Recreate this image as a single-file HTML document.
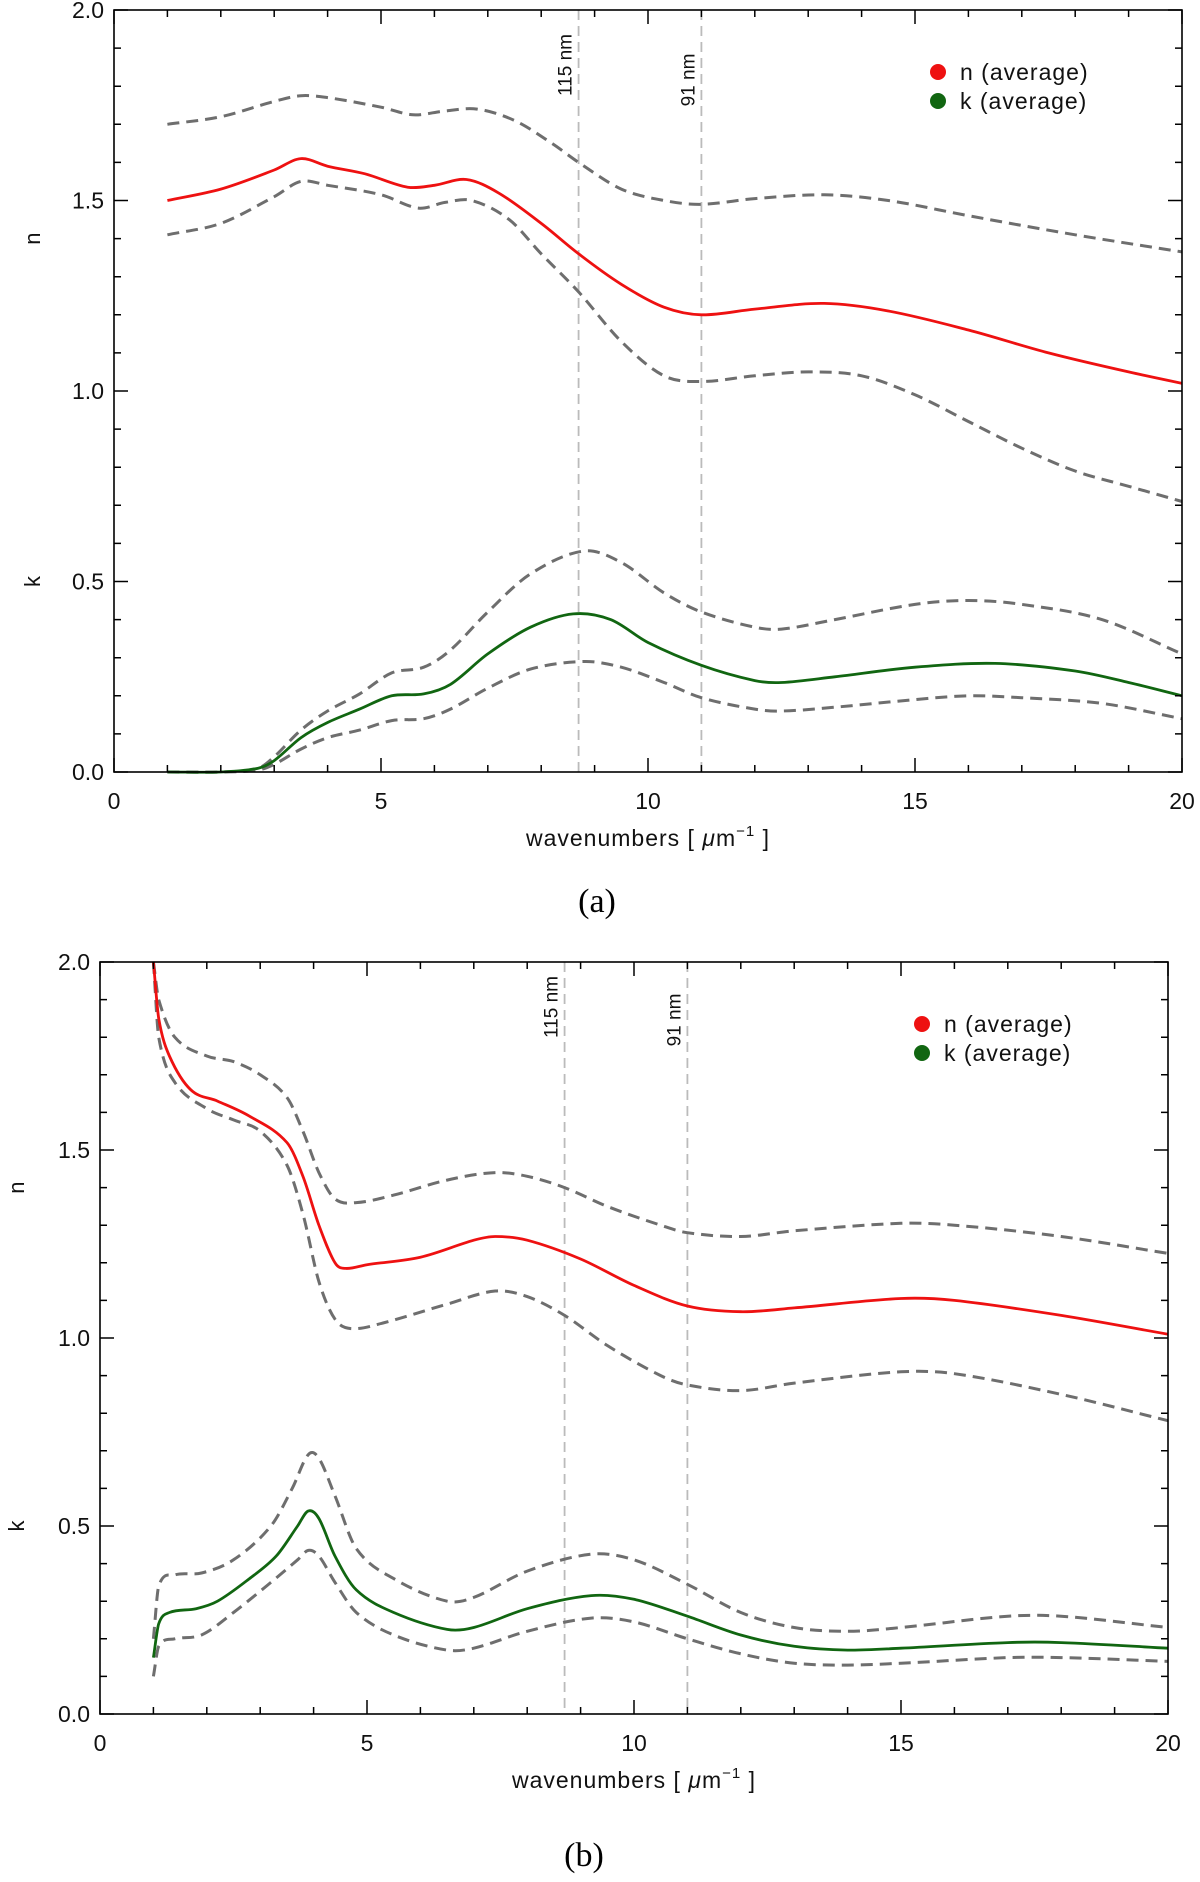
<!DOCTYPE html>
<html><head><meta charset="utf-8"><style>
html,body{margin:0;padding:0;background:#fff;}
svg{display:block;font-family:"Liberation Sans","DejaVu Sans",sans-serif;}
</style></head><body>
<svg id="fig" width="1200" height="1882" viewBox="0 0 1200 1882"></svg>
<script>
// ---------- data ----------
const xTicks = [0,5,10,15,20];
const yTicks = [0.0,0.5,1.0,1.5,2.0];
const vLines = [8.7, 11.0];
const vLabels = ["115 nm","91 nm"];
// panel (a)
const aNavgX=[1,2,3,3.5,4,4.7,5.5,6,6.6,7.2,8,8.7,9.5,10.3,11,12,13.3,14.5,16,17.5,19,20];
const aNavgY=[1.5,1.53,1.58,1.61,1.59,1.57,1.535,1.54,1.555,1.52,1.44,1.36,1.28,1.22,1.2,1.215,1.23,1.21,1.16,1.1,1.05,1.02];
const aNupX=[1,2,3,3.5,4,5,5.6,6.2,6.8,7.5,8.2,8.7,9.5,10.3,11,12,13.3,14.5,16,18,20];
const aNupY=[1.70,1.72,1.76,1.775,1.77,1.745,1.725,1.735,1.74,1.71,1.65,1.6,1.53,1.5,1.49,1.505,1.515,1.5,1.46,1.41,1.365];
const aNloX=[1,2,3,3.5,4,5,5.7,6.2,6.7,7.4,8,8.7,9.5,10.3,11,12,13,14,15,16,17,18,19,20];
const aNloY=[1.41,1.44,1.51,1.55,1.54,1.515,1.48,1.495,1.5,1.45,1.36,1.26,1.13,1.04,1.025,1.04,1.05,1.04,0.99,0.92,0.85,0.79,0.75,0.71];
const aKavgX=[1,2,2.7,3,3.5,4,4.6,5.2,5.8,6.3,7,7.8,8.6,9.3,10,11,12,12.5,13.5,15,16.5,18,19,20];
const aKavgY=[0,0,0.01,0.03,0.09,0.13,0.165,0.2,0.205,0.23,0.31,0.38,0.415,0.4,0.34,0.28,0.24,0.235,0.25,0.275,0.285,0.265,0.235,0.2];
const aKupX=[1,2,2.7,3,3.5,4,4.6,5.2,5.8,6.3,7,7.8,8.8,9.5,10.3,11,12,12.5,13.5,15,16,17,18.5,20];
const aKupY=[0,0,0.01,0.04,0.11,0.16,0.205,0.26,0.275,0.32,0.42,0.52,0.58,0.55,0.47,0.42,0.38,0.375,0.4,0.44,0.45,0.44,0.4,0.31];
const aKloX=[1,2,2.7,3,3.5,4,4.6,5.2,5.8,6.3,7,7.8,8.8,9.5,10.3,11,12,12.5,13.5,15,16,17,18.5,20];
const aKloY=[0,0,0.005,0.02,0.06,0.09,0.11,0.135,0.14,0.165,0.22,0.27,0.29,0.275,0.235,0.195,0.165,0.16,0.17,0.19,0.2,0.195,0.18,0.14];
// panel (b)
const bNavgX=[1,1.1,1.3,1.7,2.2,2.8,3.5,3.8,4.1,4.4,4.6,5,6,7,7.4,8,9,10,11,12,13,15,16,18,20];
const bNavgY=[2.0,1.85,1.75,1.66,1.63,1.59,1.52,1.43,1.3,1.2,1.185,1.195,1.215,1.26,1.27,1.26,1.21,1.14,1.085,1.07,1.08,1.105,1.1,1.06,1.01];
const bNupX=[1,1.1,1.4,2,2.5,3,3.5,3.8,4.1,4.4,4.8,5.5,6.5,7.4,8,8.7,9.5,10.5,11,12,13,15,16,18,20];
const bNupY=[2.0,1.9,1.8,1.75,1.735,1.7,1.64,1.55,1.44,1.37,1.36,1.38,1.42,1.44,1.43,1.4,1.35,1.3,1.28,1.27,1.285,1.305,1.3,1.27,1.225];
const bNloX=[1,1.1,1.4,2,2.5,3,3.5,3.8,4.1,4.4,4.7,5.3,6.5,7.4,8,8.7,9.5,10.5,11,12,13,15,16,18,20];
const bNloY=[2.0,1.8,1.68,1.61,1.58,1.55,1.46,1.33,1.15,1.05,1.025,1.04,1.09,1.125,1.11,1.06,0.98,0.9,0.875,0.86,0.88,0.91,0.905,0.85,0.78];
const bKavgX=[1,1.1,1.3,1.8,2.2,2.8,3.3,3.7,3.9,4.1,4.4,4.8,5.5,6.5,7,8,9.2,10,11,12,13,14,15,17,18,20];
const bKavgY=[0.15,0.24,0.27,0.28,0.3,0.36,0.42,0.5,0.54,0.52,0.42,0.33,0.27,0.225,0.23,0.28,0.315,0.305,0.26,0.21,0.18,0.17,0.175,0.19,0.19,0.175];
const bKupX=[1,1.1,1.4,1.9,2.5,3.2,3.6,3.9,4.1,4.4,4.8,5.5,6.5,7,8,9.2,10,11,12,13,14,15,17,18,20];
const bKupY=[0.2,0.34,0.37,0.375,0.41,0.5,0.6,0.69,0.68,0.58,0.44,0.36,0.3,0.31,0.38,0.425,0.41,0.345,0.27,0.23,0.22,0.23,0.26,0.26,0.23];
const bKloX=[1,1.1,1.4,1.9,2.5,3.2,3.7,3.9,4.1,4.4,4.8,5.5,6.5,7,8,9.2,10,11,12,13,14,15,17,18,20];
const bKloY=[0.1,0.18,0.2,0.21,0.27,0.35,0.41,0.435,0.42,0.35,0.27,0.21,0.17,0.175,0.22,0.255,0.245,0.2,0.16,0.135,0.13,0.135,0.15,0.15,0.14];

const NS="http://www.w3.org/2000/svg";
const svg=document.getElementById("fig");
function mk(tag,attrs,parent){const e=document.createElementNS(NS,tag);for(const k in attrs)e.setAttribute(k,attrs[k]);(parent||svg).appendChild(e);return e;}

function smoothPath(px,py){
  const n=px.length, m=[];
  for(let i=0;i<n;i++){
    const a=Math.max(i-1,0), b=Math.min(i+1,n-1);
    m.push((py[b]-py[a])/(px[b]-px[a]));
  }
  let d="M"+px[0].toFixed(1)+","+py[0].toFixed(1);
  for(let i=0;i<n-1;i++){
    const h=px[i+1]-px[i];
    const c1x=px[i]+h/3,c1y=py[i]+m[i]*h/3,c2x=px[i+1]-h/3,c2y=py[i+1]-m[i+1]*h/3;
    d+=" C"+c1x.toFixed(1)+","+c1y.toFixed(1)+" "+c2x.toFixed(1)+","+c2y.toFixed(1)+" "+px[i+1].toFixed(1)+","+py[i+1].toFixed(1);
  }
  return d;
}

function panel(cfg){
  const g=mk("g",{});
  
  
  const L=cfg.L,R=cfg.R,T=cfg.T,B=cfg.B;
  const sx=v=>L+(v-0)/(20-0)*(R-L);
  const sy=v=>B-(v-0)/(2-0)*(B-T);
  vLines.forEach((v,i)=>{
    const ln=mk("line",{x1:sx(v),x2:sx(v),y1:T,y2:B,stroke:"#bbb","stroke-width":1.8,"stroke-dasharray":"10,6"},g);
    
    
    const tx=sx(v)-7, ty=T+cfg.lblY[i];
    const t=mk("text",{x:tx,y:ty,transform:"rotate(-90 "+tx+" "+ty+")","text-anchor":"middle","font-size":19,fill:"#111"},g);
    t.textContent=vLabels[i];
    
    
  });
  const series=[
    [cfg.nupX,cfg.nupY,"#6e6e6e",true,"n-upper-bound"],
    [cfg.nloX,cfg.nloY,"#6e6e6e",true,"n-lower-bound"],
    [cfg.kupX,cfg.kupY,"#6e6e6e",true,"k-upper-bound"],
    [cfg.kloX,cfg.kloY,"#6e6e6e",true,"k-lower-bound"],
    [cfg.navgX,cfg.navgY,"#ee1111",false,"n-average-line"],
    [cfg.kavgX,cfg.kavgY,"#116611",false,"k-average-line"]];
  series.forEach(s=>{
    const p=mk("path",{d:smoothPath(s[0].map(sx),s[1].map(sy)),fill:"none",stroke:s[2],"stroke-width":s[3]?3:2.8},g);
    if(s[3])p.setAttribute("stroke-dasharray","12,7");
    
    
  });
  const fr=mk("rect",{x:L,y:T,width:R-L,height:B-T,fill:"none",stroke:"#000","stroke-width":1.6},g);
  
  
  let td="";
  for(let v=0;v<=20;v++){const x=sx(v),len=(v%5===0)?14:7;td+="M"+x+","+B+"v-"+len+"M"+x+","+T+"v"+len;}
  for(let i=0;i<=20;i++){const y=sy(i/10),len=(i%5===0)?14:7;td+="M"+L+","+y+"h"+len+"M"+R+","+y+"h-"+len;}
  const tk=mk("path",{d:td,stroke:"#000","stroke-width":1.5,fill:"none"},g);
  
  
  xTicks.forEach(v=>{
    const t=mk("text",{x:sx(v),y:B+37,"text-anchor":"middle","font-size":23,fill:"#111"},g);
    t.textContent=String(v);
    
    
  });
  yTicks.forEach(v=>{
    const t=mk("text",{x:L-10,y:sy(v)+8,"text-anchor":"end","font-size":23,fill:"#111"},g);
    t.textContent=v.toFixed(1);
    
    
  });
  const xt=mk("text",{x:(L+R)/2,y:B+74,"text-anchor":"middle","font-size":23,fill:"#111","letter-spacing":"1"},g);
  xt.innerHTML='wavenumbers [ <tspan font-style="italic">μ</tspan>m<tspan dy="-10" font-size="15">−1</tspan><tspan dy="10"> ]</tspan>';
  
  
  [["n",1.4,"y-axis-title-n"],["k",0.5,"y-axis-title-k"]].forEach(a=>{
    const x=cfg.yTitleX,y=sy(a[1]);
    const t=mk("text",{x:x,y:y,transform:"rotate(-90 "+x+" "+y+")","text-anchor":"middle","font-size":22,fill:"#111"},g);
    t.textContent=a[0];
    
    
  });
  [["n (average)","#ee1111",0,"legend-entry-n"],["k (average)","#116611",1,"legend-entry-k"]].forEach(e=>{
    const lg=mk("g",{},g);
    
    
    const y=cfg.legY+e[2]*29;
    mk("circle",{cx:cfg.legX,cy:y,r:8,fill:e[1]},lg);
    const t=mk("text",{x:cfg.legX+22,y:y+8,"font-size":23,fill:"#111","letter-spacing":"1"},lg);
    t.textContent=e[0];
  });
  const c=mk("text",{x:cfg.capX,y:cfg.capY,"text-anchor":"middle","font-size":34,fill:"#000","font-family":"Liberation Serif, serif"},g);
  c.textContent=cfg.caption;
  
  
}

panel({name:"panel-a",L:114,R:1182,T:10,B:772,lblY:[55,70],yTitleX:40,legX:938,legY:72,capX:597,capY:912,caption:"(a)",
  navgX:aNavgX,navgY:aNavgY,nupX:aNupX,nupY:aNupY,nloX:aNloX,nloY:aNloY,kavgX:aKavgX,kavgY:aKavgY,kupX:aKupX,kupY:aKupY,kloX:aKloX,kloY:aKloY});
panel({name:"panel-b",L:100,R:1168,T:962,B:1714,lblY:[45,58],yTitleX:24,legX:922,legY:1024,capX:584,capY:1866,caption:"(b)",
  navgX:bNavgX,navgY:bNavgY,nupX:bNupX,nupY:bNupY,nloX:bNloX,nloY:bNloY,kavgX:bKavgX,kavgY:bKavgY,kupX:bKupX,kupY:bKupY,kloX:bKloX,kloY:bKloY});
</script>
</body></html>
